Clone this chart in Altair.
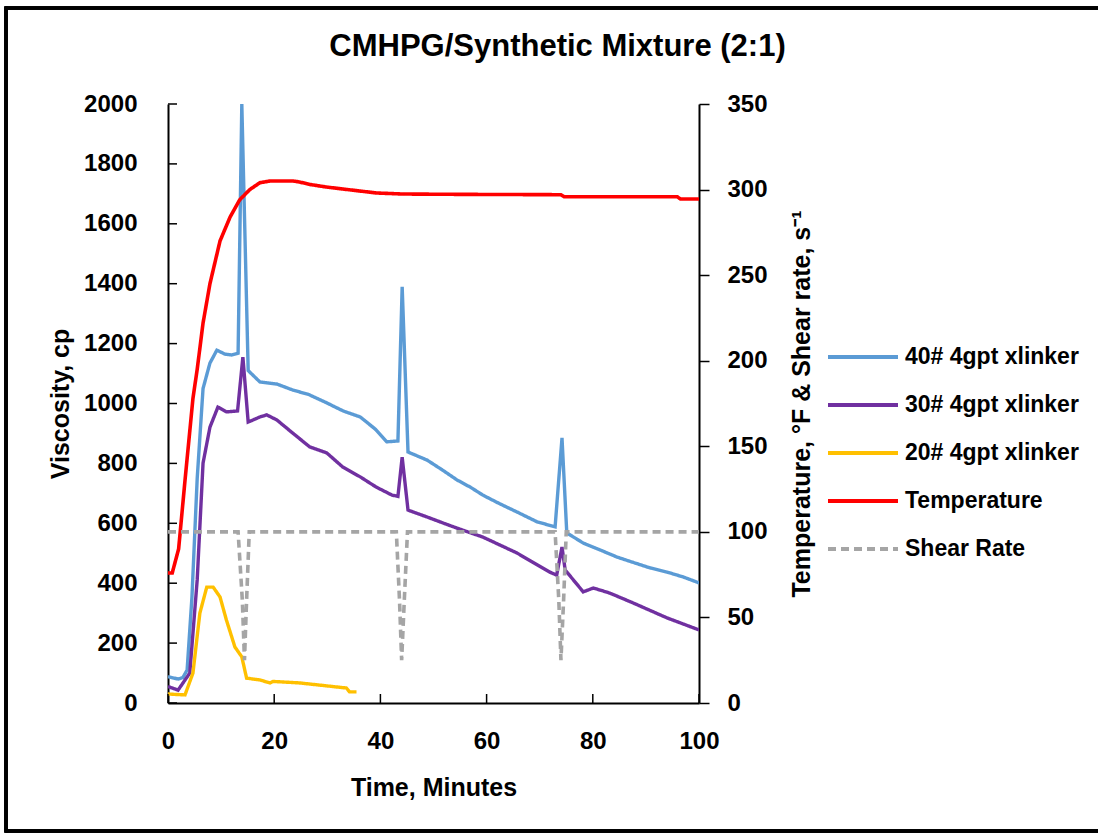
import altair as alt
import pandas as pd

FONT = "Liberation Sans"

title_text = "CMHPG/Synthetic Mixture (2:1)"
series_names = ["40# 4gpt xlinker", "30# 4gpt xlinker", "20# 4gpt xlinker", "Temperature", "Shear Rate"]
series_colors = ["#5B9BD5", "#7030A0", "#FFC000", "#FF0000", "#A5A5A5"]
series_dash = [[1, 0], [1, 0], [1, 0], [1, 0], [8, 5]]

# 40# 4gpt xlinker (viscosity, cp)
t40 = [0, 1.9, 2.8, 3.6, 4.5, 5.5, 6.6, 7.9, 9.2, 10.7, 12.0, 13.2, 13.9, 15.1, 17.3, 20.5, 23.5,
       26.5, 29.9, 33.0, 36.2, 39.0, 41.2, 43.3, 44.1, 45.2, 48.8, 51.5, 54.4, 57.0, 59.3, 62.5, 65.7,
       69.5, 72.9, 74.2, 75.1, 78.2, 81.5, 84.6, 87.5, 90.8, 94.0, 97.0, 100]
v40 = [88, 80, 85, 110, 350, 750, 1050, 1135, 1178, 1165, 1162, 1168, 2000, 1110, 1072, 1065, 1045,
       1030, 1002, 975, 955, 915, 872, 875, 1390, 838, 811, 780, 745, 720, 694, 665, 638,
       605, 588, 885, 568, 534, 510, 487, 470, 451, 437, 421, 401]

# 30# 4gpt xlinker
t30 = [0, 1.9, 4.1, 5.5, 6.6, 7.9, 9.4, 11.0, 13.1, 14.1, 15.1, 17.3, 18.6, 20.5, 23.5, 26.7, 29.9,
       32.9, 36.2, 39.2, 42.2, 43.3, 44.1, 45.2, 48.8, 51.8, 54.4, 59.3, 65.7, 71.9, 73.2, 74.2, 74.8,
       78.2, 80.1, 83.2, 87.6, 94.0, 100]
v30 = [55, 43, 100, 411, 801, 921, 988, 972, 975, 1155, 938, 955, 962, 945, 901, 855, 835,
       788, 755, 721, 694, 690, 821, 644, 621, 601, 584, 554, 501, 437, 427, 521, 444,
       371, 384, 367, 334, 284, 244]

# 20# 4gpt xlinker
t20 = [0, 3.2, 4.7, 6.0, 7.3, 8.5, 9.8, 11.0, 12.6, 13.9, 14.8, 17.3, 19.2, 19.8, 24.8, 33.6, 34.2, 35.5]
v20 = [30, 27, 100, 300, 387, 387, 354, 277, 187, 154, 83, 77, 67, 72, 67, 50, 37, 37]

# Temperature, F
t_temp = [0, 0.8, 2.0, 3.2, 4.7, 5.5, 6.6, 7.9, 9.8, 11.7, 13.5, 15.4, 17.3, 19.2, 23.6, 24.8, 26.7,
          29.8, 33.0, 36.0, 39.3, 44.2, 55.0, 74.0, 74.6, 95.9, 96.5, 100]
v_temp = [76, 76, 90, 130, 178, 195, 222, 245, 270, 284, 294, 300, 304, 305, 305, 304.4, 303,
          301.5, 300.3, 299.2, 298, 297.4, 297.2, 297, 295.8, 295.8, 294.5, 294.5]

# Shear rate, 1/s
t_shear = [0, 13.2, 14.0, 14.4, 14.8, 15.3, 43.0, 43.6, 44.0, 44.5, 45.1, 72.9, 73.6, 74.0, 74.5, 75.0, 100]
v_shear = [100, 100, 60, 25, 60, 100, 100, 60, 25, 60, 100, 100, 60, 25, 60, 100, 100]

visc_ticks = [0, 200, 400, 600, 800, 1000, 1200, 1400, 1600, 1800, 2000]
right_ticks = [0, 50, 100, 150, 200, 250, 300, 350]
time_ticks = [0, 20, 40, 60, 80, 100]


def frame(name, ts, vs):
    return pd.DataFrame({"series": name, "t": ts, "v": vs})


df_left = pd.concat([frame(series_names[0], t40, v40),
                     frame(series_names[1], t30, v30),
                     frame(series_names[2], t20, v20)], ignore_index=True)
df_right = pd.concat([frame(series_names[3], t_temp, v_temp),
                      frame(series_names[4], t_shear, v_shear)], ignore_index=True)
df_vticks = pd.DataFrame({"v": visc_ticks})
df_tticks = pd.DataFrame({"t": time_ticks})

W, H = 531, 599

x_enc = alt.X("t:Q", scale=alt.Scale(domain=[0, 100], nice=False),
              axis=alt.Axis(values=time_ticks, title="Time, Minutes", tickSize=0, labelPadding=26,
                            titlePadding=22, grid=False, domainColor="black", domainWidth=2,
                            labelFlush=False, format="d"))

legend = alt.Legend(title=None, orient="none", legendX=658, legendY=241,
                    symbolType="stroke", symbolSize=4900, symbolStrokeWidth=4,
                    clipHeight=24, rowPadding=24, labelOffset=5,
                    labelFont=FONT, labelFontSize=23, labelFontWeight="bold", labelColor="black",
                    labelLimit=400)

color_enc = alt.Color("series:N", scale=alt.Scale(domain=series_names, range=series_colors), legend=legend)
dash_enc = alt.StrokeDash("series:N", scale=alt.Scale(domain=series_names, range=series_dash), legend=legend)

left_lines = alt.Chart(df_left).mark_line(strokeWidth=3.4, clip=True).encode(
    x=x_enc,
    y=alt.Y("v:Q", scale=alt.Scale(domain=[0, 2000], nice=False),
            axis=alt.Axis(values=visc_ticks, title="Viscosity, cp", tickSize=0, labelPadding=31,
                          titlePadding=10, grid=False, domainColor="black", domainWidth=2,
                          labelFlush=False, format="d")),
    color=color_enc,
    strokeDash=dash_enc,
    order=alt.Order("t:Q"),
)

left_ticks = alt.Chart(df_vticks).mark_rule(color="black", strokeWidth=1.5).encode(
    y=alt.Y("v:Q"), x=alt.value(0), x2=alt.value(9))

bottom_ticks = alt.Chart(df_tticks).mark_rule(color="black", strokeWidth=1.5).encode(
    x=alt.X("t:Q"), y=alt.value(H), y2=alt.value(H - 9))

# outer frame: left, top and bottom edges only (the right edge is off the picture)
frame_top = alt.Chart(df_tticks).mark_rule(color="black", strokeWidth=3, clip=False).encode(
    x=alt.value(-162), x2=alt.value(940), y=alt.value(-96))
frame_bottom = alt.Chart(df_tticks).mark_rule(color="black", strokeWidth=3, clip=False).encode(
    x=alt.value(-162), x2=alt.value(940), y=alt.value(727))
frame_left = alt.Chart(df_tticks).mark_rule(color="black", strokeWidth=3, clip=False).encode(
    x=alt.value(-162), y=alt.value(-97.5), y2=alt.value(728.5))

left = alt.layer(left_lines, left_ticks, bottom_ticks)

right_lines = alt.Chart(df_right).mark_line(strokeWidth=3.6, clip=True).encode(
    x=x_enc,
    y=alt.Y("v:Q", scale=alt.Scale(domain=[0, 350], nice=False),
            axis=alt.Axis(orient="right", values=right_ticks, title="Temperature, °F & Shear rate, s⁻¹",
                          titleAngle=270, titleBaseline="top", tickSize=10, tickColor="black",
                          tickWidth=1.5, labelPadding=18, titlePadding=22, grid=False,
                          domainColor="black", domainWidth=2, labelFlush=False, format="d")),
    color=color_enc,
    strokeDash=dash_enc,
    order=alt.Order("t:Q"),
)

chart = alt.layer(left, right_lines, frame_top, frame_bottom, frame_left).resolve_scale(y="independent").properties(
    width=W, height=H,
    title=alt.TitleParams(title_text, font=FONT, fontSize=31, fontWeight="bold", color="black",
                          anchor="middle", dx=124, offset=-73, baseline="middle"),
    autosize=alt.AutoSizeParams(type="none"),
    padding={"left": 168, "top": 104, "right": 399, "bottom": 130},
    background="white",
).configure_view(stroke=None).configure_axis(
    labelFont=FONT, labelFontSize=24, labelFontWeight="bold", labelColor="black",
    titleFont=FONT, titleFontSize=25, titleFontWeight="bold", titleColor="black",
)

chart.save("out.html", embed_options={"renderer": "svg", "actions": False})
